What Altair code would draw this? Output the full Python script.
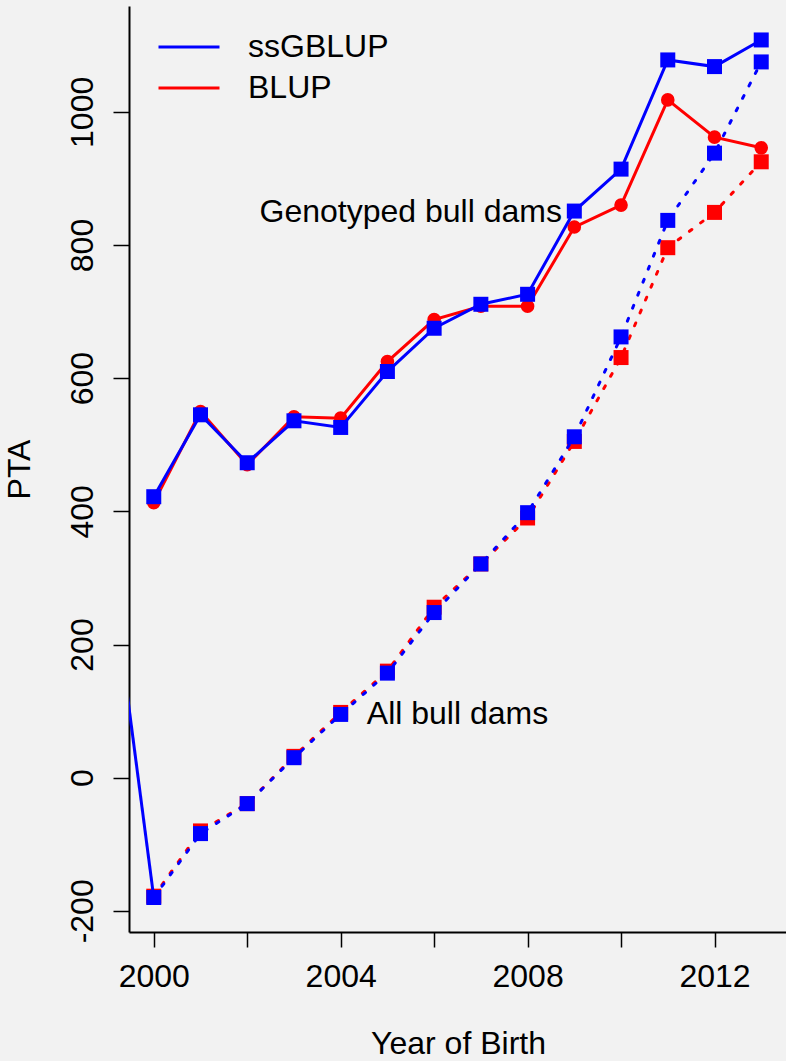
import altair as alt
import pandas as pd

# ---- data ----
years = list(range(2000, 2014))
geno_ssgblup = [422, 545, 473, 536, 526, 610, 675, 711, 726, 851, 914, 1078, 1068, 1108]
geno_blup = [413, 550, 470, 542, 540, 625, 688, 708, 708, 827, 860, 1018, 962, 946]
all_ssgblup = [-180, -84, -39, 30, 95, 157, 248, 321, 398, 512, 662, 837, 938, 1075]
all_blup = [-178, -80, -39, 32, 98, 160, 256, 321, 390, 505, 631, 796, 849, 925]
stray_years = [1999, 2000]
stray_values = [358, -180]

methods = ["ssGBLUP", "BLUP"]
colors = ["#0000FF", "#FF0000"]
notes = ["Genotyped bull dams", "All bull dams"]
note_x = [2005.5, 2006.5]
note_y = [850, 96]
x_ticks = list(range(2000, 2013, 2))
y_ticks = [-200, 0, 200, 400, 600, 800, 1000]

FONT = "Liberation Sans"
BLUE, RED = colors

df_g_ss = pd.DataFrame({"year": years, "value": geno_ssgblup, "method": "ssGBLUP"})
df_g_bl = pd.DataFrame({"year": years, "value": geno_blup, "method": "BLUP"})
df_a_ss = pd.DataFrame({"year": years, "value": all_ssgblup, "method": "ssGBLUP"})
df_a_bl = pd.DataFrame({"year": years, "value": all_blup, "method": "BLUP"})
df_stray = pd.DataFrame({"year": stray_years, "value": stray_values})
df_notes = pd.DataFrame({"label": notes, "year": note_x, "value": note_y})

xs = alt.Scale(domain=[1999.47, 2013.53], nice=False, zero=False)
ys = alt.Scale(domain=[-231.8, 1159], nice=False, zero=False)

x_axis = alt.Axis(
    values=x_ticks, format="d",
    labelExpr="datum.value % 4 == 0 ? datum.label : ''",
    title="Year of Birth", titleX=329, titleY=121, titleAlign="center",
    titleBaseline="alphabetic",
    tickSize=15, labelPadding=39, labelBaseline="alphabetic",
    labelAngle=0, labelAlign="center",
)
y_axis = alt.Axis(
    values=y_ticks, format="d",
    labelExpr="'' + datum.value",
    title="PTA", titleX=-100, titleY=463, titleAngle=270, titleAlign="center",
    titleBaseline="alphabetic",
    tickSize=16, labelPadding=21, labelAngle=270, labelAlign="center",
    labelBaseline="alphabetic",
)

X = alt.X("year:Q", scale=xs, axis=x_axis)
Y = alt.Y("value:Q", scale=ys, axis=y_axis)

color_enc = alt.Color(
    "method:N",
    scale=alt.Scale(domain=methods, range=colors),
    legend=alt.Legend(
        title=None, orient="none", legendX=43, legendY=24,
        symbolType="M-2,0H2", symbolSize=930, symbolStrokeWidth=3,
        labelFontSize=32, labelFont=FONT, labelColor="black",
        labelOffset=42, rowPadding=8, padding=0, symbolOpacity=1,
    ),
)


def solid(df):
    return alt.Chart(df).mark_line(strokeWidth=3).encode(x=X, y=Y, color=color_enc)


def dotted(df, c):
    return alt.Chart(df).mark_line(
        strokeWidth=3, strokeDash=[3, 11], strokeCap="round", color=c
    ).encode(x=X, y=Y)


def pts(df, c, shape, size):
    return alt.Chart(df).mark_point(
        shape=shape, filled=True, size=size, color=c, opacity=1, strokeWidth=0
    ).encode(x=X, y=Y)


layers = [
    solid(df_g_bl),
    pts(df_g_bl, RED, "circle", 185),
    solid(df_g_ss),
    pts(df_g_ss, BLUE, "square", 225),
    dotted(df_a_bl, RED),
    pts(df_a_bl, RED, "square", 225),
    dotted(df_a_ss, BLUE),
    pts(df_a_ss, BLUE, "square", 225),
    alt.Chart(df_stray).mark_line(strokeWidth=3, color=BLUE, clip=True).encode(x=X, y=Y),
    alt.Chart(df_notes).mark_text(
        font=FONT, fontSize=32, color="black", align="center", baseline="middle"
    ).encode(x=X, y=Y, text="label:N"),
]

chart = alt.layer(*layers).properties(
    width=657, height=926,
    autosize=alt.AutoSizeParams(type="none"),
    padding={"left": 129, "top": 6, "right": 0, "bottom": 129},
    background="#F2F2F2",
).configure_view(strokeWidth=0, fill=None).configure_axis(
    grid=False, domainColor="black", domainWidth=2, tickColor="black", tickWidth=1.5,
    labelFont=FONT, labelFontSize=32, labelColor="black",
    titleFont=FONT, titleFontSize=32, titleColor="black", titleFontWeight="normal",
)

chart.save("out.html", embed_options={"renderer": "svg", "actions": False})
